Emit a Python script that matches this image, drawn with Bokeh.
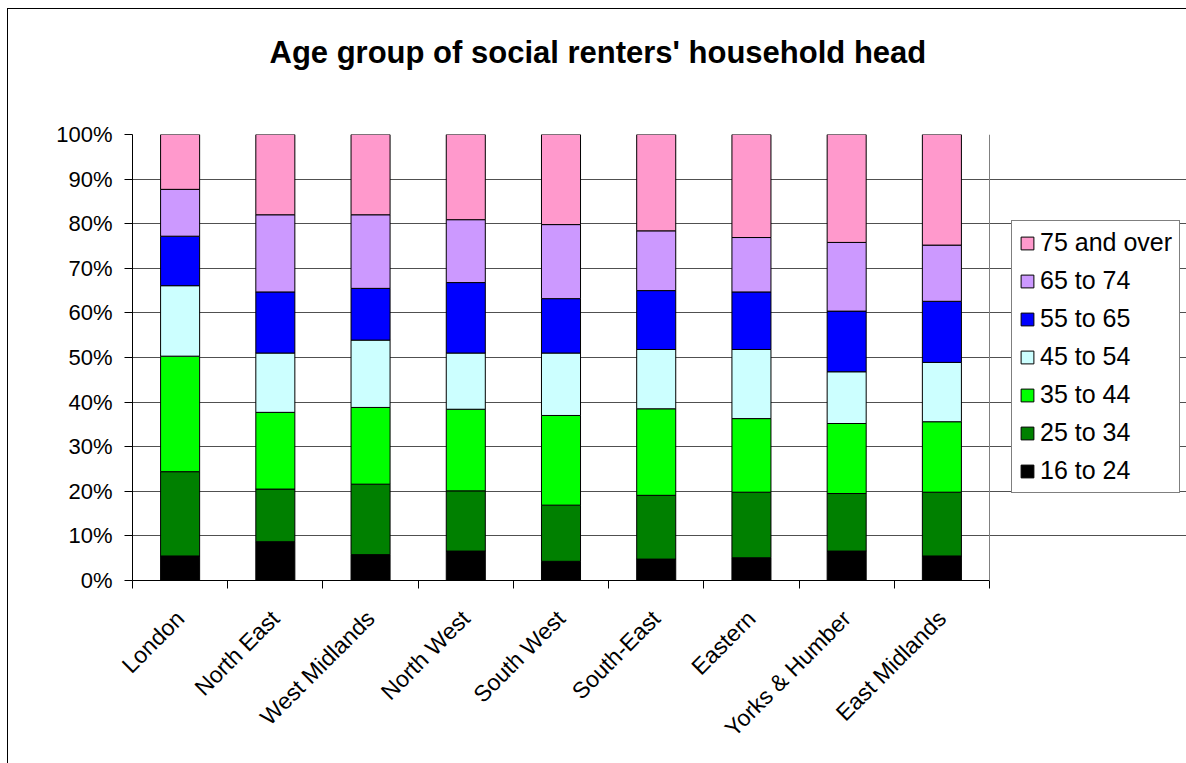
from bokeh.plotting import figure
from bokeh.models import (ColumnDataSource, Range1d, FixedTicker, PrintfTickFormatter,
                          Legend, LegendItem, Span)
from bokeh.embed import file_html
from bokeh.resources import INLINE

regions = ["London", "North East", "West Midlands", "North West", "South West",
           "South-East", "Eastern", "Yorks & Humber", "East Midlands"]
groups = ["16 to 24", "25 to 34", "35 to 44", "45 to 54", "55 to 65", "65 to 74", "75 and over"]

age_16_24 = [5.5, 8.7, 5.8, 6.6, 4.3, 4.8, 5.1, 6.6, 5.5]
age_25_34 = [18.9, 11.8, 15.8, 13.5, 12.6, 14.3, 14.7, 12.9, 14.3]
age_35_44 = [25.9, 17.2, 17.2, 18.3, 20.1, 19.4, 16.5, 15.7, 15.8]
age_45_54 = [15.8, 13.3, 15.1, 12.6, 14.0, 13.3, 15.5, 11.6, 13.3]
age_55_65 = [11.1, 13.7, 11.6, 15.8, 12.2, 13.2, 12.9, 13.6, 13.7]
age_65_74 = [10.5, 17.3, 16.5, 14.1, 16.6, 13.4, 12.2, 15.4, 12.6]
age_75_over = [12.3, 18.0, 18.0, 19.1, 20.2, 21.6, 23.1, 24.2, 24.8]

colors = ["#000000", "#008000", "#00FF00", "#CCFFFF", "#0000FF", "#CC99FF", "#FF99CC"]
y_ticks = list(range(0, 101, 10))

FONT = "Liberation Sans"

n = len(regions)
xpos = [i + 0.5 for i in range(n)]
data = {"x": xpos}
for g, vals in zip(groups, [age_16_24, age_25_34, age_35_44, age_45_54,
                            age_55_65, age_65_74, age_75_over]):
    data[g] = vals
source = ColumnDataSource(data)

# layout (pixels)
W, H = 1178, 754
LEFT, TOP, BOTTOM = 124, 125, 183
PLOT_W = 857            # width of the category area
FRAME_W = W - LEFT      # frame extends to the right edge; legend sits in it
x_end = n * FRAME_W / PLOT_W

p = figure(width=W, height=H, output_backend="svg", toolbar_location=None,
           x_range=Range1d(0, x_end), y_range=Range1d(0, 100),
           min_border_left=LEFT, min_border_right=0, min_border_top=TOP,
           min_border_bottom=BOTTOM)
p.styles = {"outline": "1px solid black", "margin-left": "8px", "margin-top": "9px"}

p.title.text = "Age group of social renters' household head"
p.title.text_font = FONT
p.title.text_font_size = "31px"
p.title.text_font_style = "bold"
p.title.align = "left"
p.title.offset = 137
p.title.vertical_align = "top"
p.title.text_color = "black"
applied = False
if "padding" in p.title.properties():
    try:
        p.title.padding = (0, 0, 0, 40)
        p.title.standoff = 46
        applied = True
    except Exception:
        applied = False
if not applied:
    p.title.standoff = 88

p.background_fill_color = "white"
p.border_fill_color = "white"
p.outline_line_color = None

renderers = p.vbar_stack(groups, x="x", width=0.41, color=colors, line_color="black",
                         line_width=1, source=source)

# right edge of the plot area
p.add_layout(Span(location=n, dimension="height", line_color="#808080", line_width=1))

# grid
p.xgrid.visible = False
p.ygrid.ticker = FixedTicker(ticks=y_ticks)
p.ygrid.grid_line_color = "#505050"
p.ygrid.grid_line_width = 1
p.ygrid.bounds = (0, n)

# y axis
p.yaxis.ticker = FixedTicker(ticks=y_ticks)
p.yaxis.formatter = PrintfTickFormatter(format="%d%%")
p.yaxis.axis_line_color = "black"
p.yaxis.major_tick_line_color = "black"
p.yaxis.major_tick_out = 8
p.yaxis.major_tick_in = 0
p.yaxis.minor_tick_line_color = None
p.yaxis.major_label_text_font = FONT
p.yaxis.major_label_text_font_size = "22px"
p.yaxis.major_label_text_color = "black"
p.yaxis.major_label_standoff = 12

# x axis: labels at centres, tick marks at boundaries
xaxis = p.below[0]
xaxis.ticker = FixedTicker(ticks=xpos, minor_ticks=list(range(n + 1)))
xaxis.major_label_overrides = {x: r for x, r in zip(xpos, regions)}
xaxis.bounds = (0, n)
xaxis.axis_line_color = "black"
xaxis.major_tick_line_color = None
xaxis.major_tick_out = 0
xaxis.major_tick_in = 0
xaxis.minor_tick_line_color = "black"
xaxis.minor_tick_out = 8
xaxis.minor_tick_in = 0
xaxis.major_label_orientation = 0.785398
xaxis.major_label_text_font = FONT
xaxis.major_label_text_font_size = "23px"
xaxis.major_label_text_color = "black"
xaxis.major_label_standoff = 26

items = [LegendItem(label=g, renderers=[r]) for g, r in zip(groups, renderers)][::-1]
legend = Legend(items=items, location=(879, 87))
legend.label_text_font = FONT
legend.label_text_font_size = "25px"
legend.label_text_color = "black"
legend.glyph_width = 16
legend.glyph_height = 16
legend.label_standoff = 5
legend.spacing = 9
legend.padding = 7
legend.margin = 0
legend.border_line_color = "black"
legend.border_line_width = 1
legend.background_fill_color = "white"
legend.background_fill_alpha = 1.0
p.add_layout(legend, "center")

open("out.html", "w").write(file_html(p, INLINE))
